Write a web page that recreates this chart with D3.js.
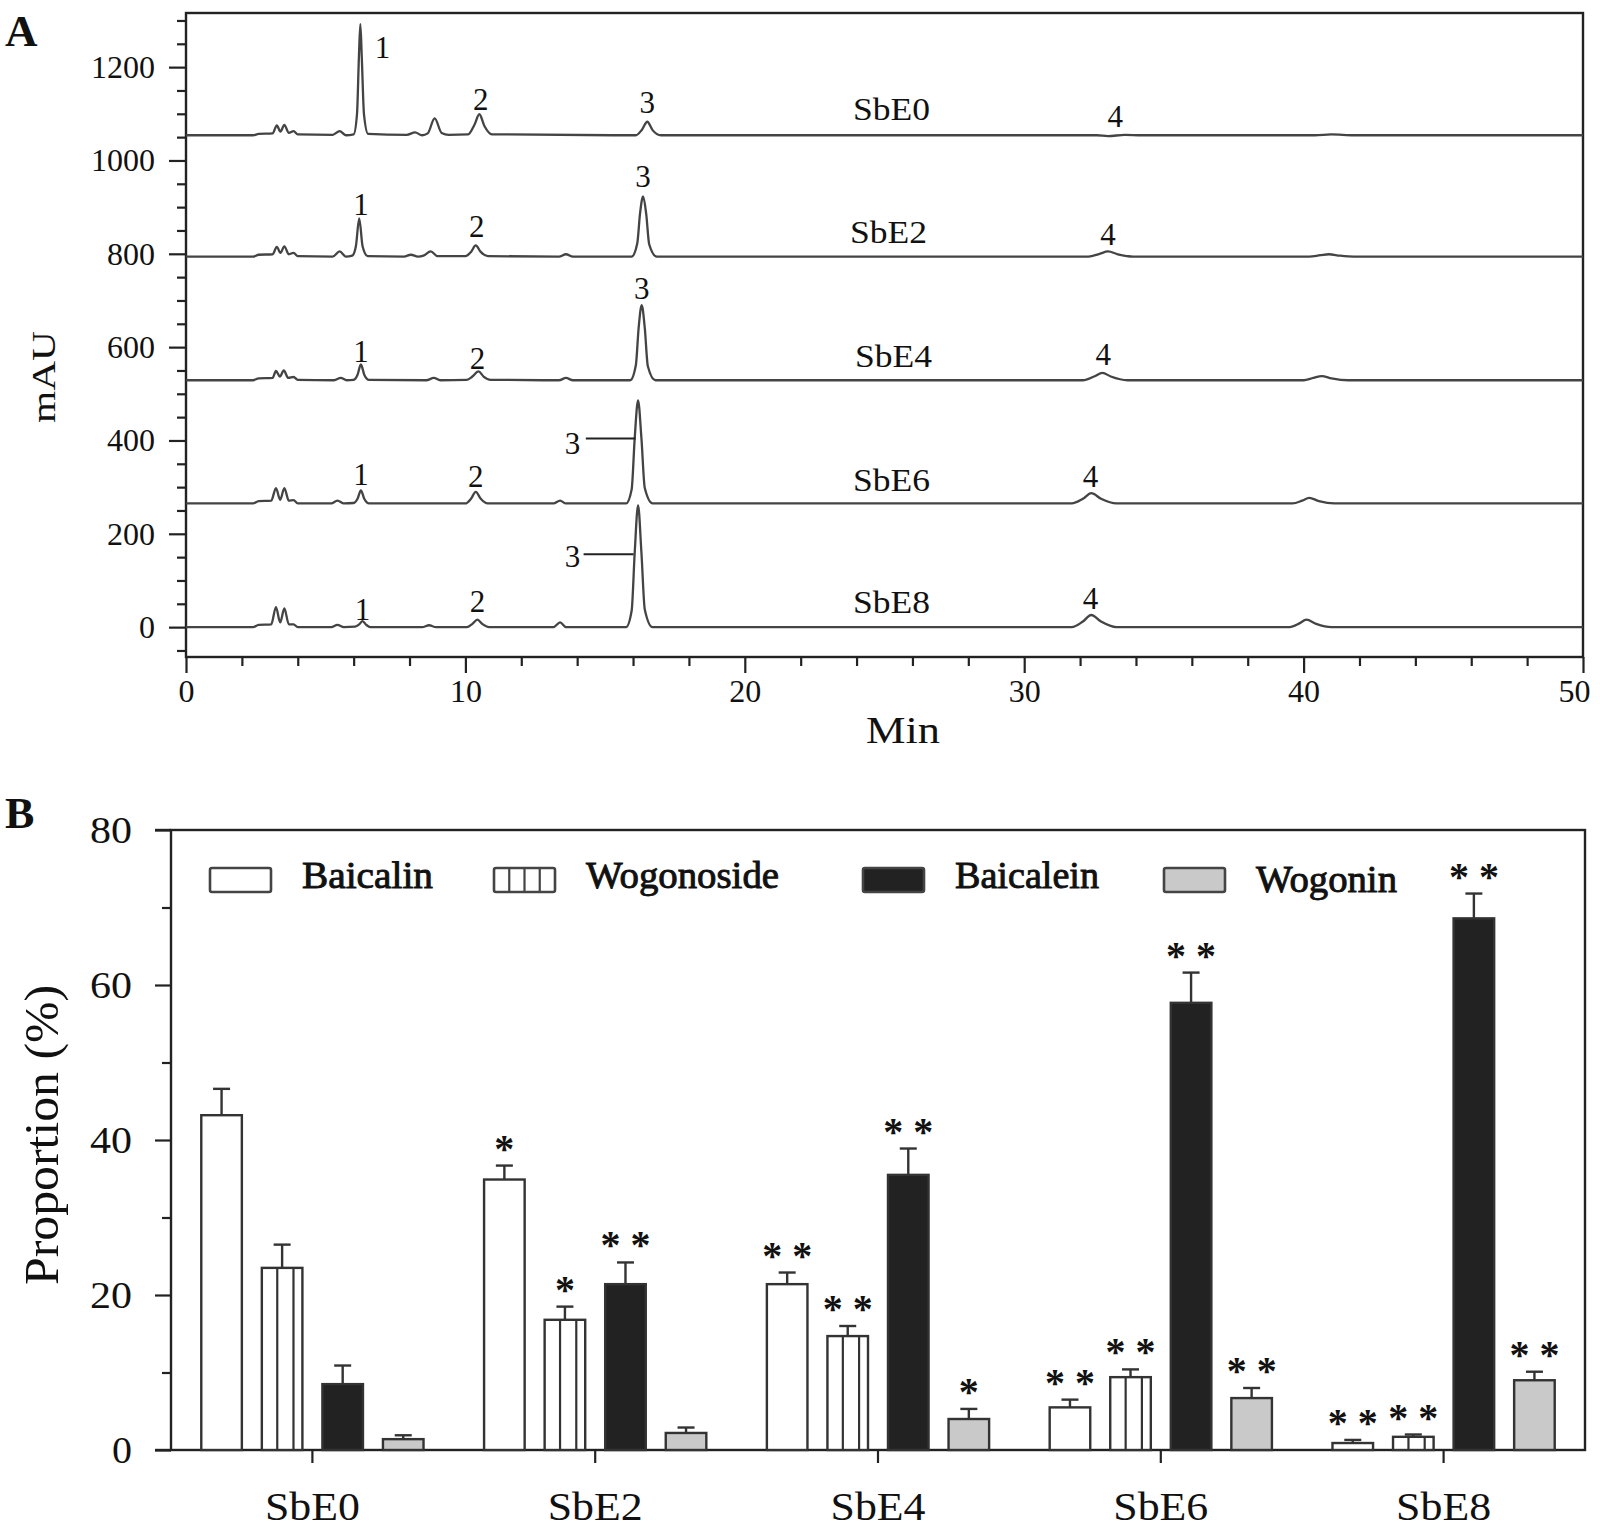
<!DOCTYPE html>
<html><head><meta charset="utf-8">
<script src="https://cdn.jsdelivr.net/npm/d3@7"></script>
<style>
body{margin:0;background:#fff}
svg{display:block}
text{font-family:"Liberation Serif","Times New Roman",serif;fill:#111}
</style>
</head><body>
<svg id="c" width="1600" height="1530"></svg>
<script>
// ---------------- Panel A data (chromatograms) ----------------
const samples = ["SbE0","SbE2","SbE4","SbE6","SbE8"];
const traceBaselines = [1054, 794, 529, 265, 0];   // mAU offset of each trace
// [minute, mAU above the trace baseline]
const traceSbE0 = [[0,0],[2.4,0],[2.6,3],[3.1,4],[3.25,21],[3.38,8],[3.52,22],[3.68,5],[3.85,9],[4.0,2],[5.25,1],[5.5,9],[5.72,0],[6.0,2],[6.12,45],[6.19,170],[6.24,238],[6.29,170],[6.37,45],[6.52,3],[7.9,1],[8.2,6],[8.45,0],[8.65,4],[8.9,36],[9.15,5],[9.4,1],[10.1,2],[10.32,22],[10.5,45],[10.68,20],[10.95,2],[16.1,0],[16.32,12],[16.51,29],[16.7,11],[17.0,0],[32.6,0],[33.0,-2],[33.6,1],[34.2,0],[40.4,0],[41.0,2],[41.8,0],[50,0]];
const traceSbE2 = [[0,0],[2.4,0],[2.6,4],[3.1,5],[3.25,21],[3.38,8],[3.52,22],[3.68,5],[3.85,8],[4.0,1],[5.25,0],[5.5,11],[5.72,0],[5.95,2],[6.08,22],[6.2,82],[6.32,22],[6.5,1],[7.8,0],[8.05,4],[8.3,0],[8.5,2],[8.76,11],[9.0,1],[10.0,1],[10.2,10],[10.37,24],[10.55,10],[10.8,1],[13.35,0],[13.6,5],[13.85,0],[15.95,0],[16.15,28],[16.25,92],[16.36,129],[16.47,92],[16.58,26],[16.85,0],[32.3,0],[32.7,6],[33.0,11],[33.35,5],[33.9,0],[40.2,0],[40.6,3],[40.9,5],[41.3,2],[41.8,0],[50,0]];
const traceSbE4 = [[0,0],[2.4,0],[2.6,4],[3.1,5],[3.22,20],[3.36,8],[3.5,21],[3.66,5],[3.85,7],[4.0,1],[5.3,0],[5.54,5],[5.75,0],[6.0,1],[6.14,12],[6.26,34],[6.38,12],[6.55,1],[8.6,0],[8.87,5],[9.1,0],[10.05,1],[10.25,8],[10.47,19],[10.65,8],[10.9,1],[13.35,0],[13.6,5],[13.85,0],[15.9,0],[16.1,32],[16.2,112],[16.31,161],[16.42,112],[16.53,30],[16.8,0],[32.1,0],[32.5,8],[32.8,16],[33.1,8],[33.7,0],[40.0,0],[40.35,5],[40.65,9],[41.0,4],[41.6,0],[50,0]];
const traceSbE6 = [[0,0],[2.4,0],[2.6,5],[3.05,6],[3.22,33],[3.37,8],[3.52,33],[3.68,6],[3.85,7],[4.0,0],[5.2,0],[5.42,6],[5.65,0],[6.0,1],[6.14,10],[6.26,28],[6.38,10],[6.55,0],[10.0,0],[10.2,10],[10.37,25],[10.55,10],[10.8,0],[13.15,0],[13.39,6],[13.6,0],[15.75,0],[15.95,30],[16.06,140],[16.18,221],[16.3,140],[16.42,33],[16.7,0],[31.7,0],[32.1,10],[32.4,22],[32.75,10],[33.3,0],[39.6,0],[39.95,6],[40.2,12],[40.55,5],[41.1,0],[50,0]];
const traceSbE8 = [[0,0],[2.4,0],[2.6,5],[3.05,6],[3.22,43],[3.37,10],[3.52,40],[3.68,6],[3.85,6],[4.0,0],[5.2,0],[5.42,5],[5.65,0],[6.05,1],[6.2,6],[6.32,13],[6.45,5],[6.6,0],[8.45,0],[8.7,4],[8.95,0],[10.05,0],[10.25,7],[10.43,16],[10.6,7],[10.85,0],[13.15,0],[13.39,10],[13.6,0],[15.75,0],[15.95,35],[16.06,160],[16.18,261],[16.3,160],[16.42,38],[16.7,0],[31.7,0],[32.1,12],[32.4,26],[32.75,12],[33.3,0],[39.5,0],[39.85,8],[40.1,16],[40.45,7],[41.0,0],[50,0]];
const traces = [traceSbE0, traceSbE2, traceSbE4, traceSbE6, traceSbE8];

const xTicksA = [0,10,20,30,40,50];
const xMinorA = [2,4,6,8,12,14,16,18,22,24,26,28,32,34,36,38,42,44,46,48];
const yTicksA = [0,200,400,600,800,1000,1200];
const yMinorA = [-50,50,100,150,250,300,350,450,500,550,650,700,750,850,900,950,1050,1100,1150,1250,1300];

// peak annotations [label, minute, mAU]
const peakLabels = [
  ["1",7.03,1219],["2",10.55,1108],["3",16.51,1101],["4",33.26,1071],
  ["1",6.26,883],["2",10.41,836],["3",16.36,943],["4",33.0,819],
  ["1",6.26,568],["2",10.43,554],["3",16.31,704],["4",32.83,561],
  ["1",6.26,304],["2",10.37,300],["3",13.83,372],["4",32.37,300],
  ["1",6.32,15],["2",10.43,32],["3",13.83,129],["4",32.37,39]
];
// leader lines for label 3 [t1, t2, mAU]
const leaderLines = [[14.31,16.09,404],[14.23,16.02,156]];
// sample names inside panel A [minute, mAU]
const sampleLabelPos = [[25.25,1086],[25.14,823],[25.32,558],[25.25,292],[25.25,30]];

// ---------------- Panel B data (bars) ----------------
const compounds = ["Baicalin","Wogonoside","Baicalein","Wogonin"];
const baicalin   = [43.2, 34.9, 21.4, 5.5, 0.9];
const wogonoside = [23.5, 16.8, 14.7, 9.4, 1.7];
const baicalein  = [8.5, 21.4, 35.5, 57.7, 68.6];
const wogonin    = [1.4, 2.2, 4.0, 6.7, 9.0];
const baicalinErr   = [3.4, 1.8, 1.5, 1.0, 0.4];
const wogonosideErr = [3.0, 1.7, 1.3, 1.0, 0.3];
const baicaleinErr  = [2.4, 2.8, 3.4, 3.9, 3.2];
const wogoninErr    = [0.5, 0.7, 1.3, 1.3, 1.1];
const baicalinSig   = ["", "*", "**", "**", "**"];
const wogonosideSig = ["", "*", "**", "**", "**"];
const baicaleinSig  = ["", "**", "**", "**", "**"];
const wogoninSig    = ["", "", "*", "**", "**"];
const yTicksB = [0,20,40,60,80];
const yMinorB = [10,30,50,70];

// ---------------- drawing ----------------
const svg = d3.select("#c");
const INK = "#222";

// ===== Panel A =====
const xA = d3.scaleLinear().domain([0,50]).range([186,1583]);
const yA = d3.scaleLinear().domain([-64,1316]).range([657,13]);
const gA = svg.append("g");

function styleAxis(g, fs){
  g.select(".domain").remove();
  g.selectAll(".tick line").attr("stroke",INK).attr("stroke-width",2.2);
  g.selectAll("text").attr("font-size",fs).attr("fill","#111");
}

gA.append("g").attr("transform",`translate(${xA(0)},0)`)
  .call(d3.axisLeft(yA).tickValues(yMinorA).tickSize(9).tickFormat(""))
  .call(g=>styleAxis(g,32));
gA.append("g").attr("transform",`translate(${xA(0)},0)`)
  .call(d3.axisLeft(yA).tickValues(yTicksA).tickSize(17).tickPadding(14).tickFormat(d3.format("d")))
  .call(g=>styleAxis(g,32));
gA.append("g").attr("transform",`translate(0,${yA.range()[0]})`)
  .call(d3.axisBottom(xA).tickValues(xMinorA).tickSize(9).tickFormat(""))
  .call(g=>styleAxis(g,32));
const xAx = gA.append("g").attr("transform",`translate(0,${yA.range()[0]})`)
  .call(d3.axisBottom(xA).tickValues(xTicksA).tickSize(16).tickPadding(6).tickFormat(d3.format("d")))
  .call(g=>styleAxis(g,32));
xAx.selectAll(".tick").filter(d=>d===50).select("text").attr("x",-9);

gA.append("rect").attr("x",xA(0)).attr("y",yA.range()[1])
  .attr("width",xA(50)-xA(0)).attr("height",yA.range()[0]-yA.range()[1])
  .attr("fill","none").attr("stroke",INK).attr("stroke-width",2.4);

const line = d3.line().curve(d3.curveMonotoneX);
traces.forEach((tr,i)=>{
  const b = traceBaselines[i];
  gA.append("path")
    .attr("d", line(tr.map(p=>[xA(p[0]), yA(b+p[1])])))
    .attr("fill","none").attr("stroke","#444").attr("stroke-width",2.3)
    .attr("stroke-linejoin","round");
});

gA.selectAll(".pk").data(peakLabels).join("text")
  .attr("x",d=>xA(d[1])).attr("y",d=>yA(d[2]))
  .attr("text-anchor","middle").attr("font-size",31).text(d=>d[0]);
gA.selectAll(".ll").data(leaderLines).join("line")
  .attr("x1",d=>xA(d[0])).attr("x2",d=>xA(d[1]))
  .attr("y1",d=>yA(d[2])).attr("y2",d=>yA(d[2]))
  .attr("stroke",INK).attr("stroke-width",2);
gA.selectAll(".sl").data(sampleLabelPos).join("text")
  .attr("x",d=>xA(d[0])).attr("y",d=>yA(d[1]))
  .attr("text-anchor","middle").attr("font-size",31)
  .attr("textLength",77).attr("lengthAdjust","spacingAndGlyphs")
  .text((d,i)=>samples[i]);

gA.append("text").attr("transform","translate(55,377) rotate(-90)")
  .attr("text-anchor","middle").attr("font-size",34)
  .attr("textLength",92).attr("lengthAdjust","spacingAndGlyphs").text("mAU");
gA.append("text").attr("x",903).attr("y",743).attr("text-anchor","middle")
  .attr("font-size",38).attr("textLength",74).attr("lengthAdjust","spacingAndGlyphs").text("Min");
gA.append("text").attr("x",5).attr("y",46).attr("font-size",45).attr("font-weight","bold").text("A");

// ===== Panel B =====
const yB = d3.scaleLinear().domain([0,80]).range([1450,830]);
const x0 = d3.scaleBand().domain(samples).range([171,1585]);
const x1 = d3.scaleBand().domain(compounds).range([0,x0.bandwidth()]).paddingInner(0.33).paddingOuter(0.5);
const gB = svg.append("g");

gB.append("g").attr("transform",`translate(171,0)`)
  .call(d3.axisLeft(yB).tickValues(yMinorB).tickSize(9).tickFormat(""))
  .call(g=>styleAxis(g,37));
gB.append("g").attr("transform",`translate(171,0)`)
  .call(d3.axisLeft(yB).tickValues(yTicksB).tickSize(16).tickPadding(23).tickFormat(d3.format("d")))
  .call(g=>{styleAxis(g,38); g.selectAll("text").attr("textLength",t=>t>=10?42:20).attr("lengthAdjust","spacingAndGlyphs");});
gB.append("g").attr("transform",`translate(0,1450)`)
  .call(d3.axisBottom(x0).tickSize(13).tickPadding(29))
  .call(g=>{styleAxis(g,40); g.selectAll("text").attr("textLength",95).attr("lengthAdjust","spacingAndGlyphs");});

gB.append("rect").attr("x",171).attr("y",830).attr("width",1585-171).attr("height",620)
  .attr("fill","none").attr("stroke",INK).attr("stroke-width",2.4);
gB.append("line").attr("x1",155).attr("x2",171).attr("y1",830).attr("y2",830).attr("stroke",INK).attr("stroke-width",2.4);
gB.append("line").attr("x1",155).attr("x2",171).attr("y1",1450).attr("y2",1450).attr("stroke",INK).attr("stroke-width",2.4);

const seriesVals = [baicalin, wogonoside, baicalein, wogonin];
const seriesErr = [baicalinErr, wogonosideErr, baicaleinErr, wogoninErr];
const seriesSig = [baicalinSig, wogonosideSig, baicaleinSig, wogoninSig];
const fills = ["#ffffff","#ffffff","#222222","#c9c9c9"];
const bw = x1.bandwidth();

samples.forEach((s,si)=>{
  compounds.forEach((c,ci)=>{
    const v = seriesVals[ci][si], e = seriesErr[ci][si];
    const bx = x0(s)+x1(c), cx = bx+bw/2;
    const yTop = yB(v), yErr = yB(v+e);
    gB.append("line").attr("x1",cx).attr("x2",cx).attr("y1",yTop).attr("y2",yErr)
      .attr("stroke","#333").attr("stroke-width",2.4);
    gB.append("line").attr("x1",cx-8.5).attr("x2",cx+8.5).attr("y1",yErr).attr("y2",yErr)
      .attr("stroke","#333").attr("stroke-width",2.4);
    gB.append("rect").attr("x",bx).attr("y",yTop).attr("width",bw).attr("height",yB(0)-yTop)
      .attr("fill",fills[ci]).attr("stroke","#333").attr("stroke-width",2.4);
    if(ci===1){
      [0.38,0.78].forEach(f=>{
        gB.append("line").attr("x1",bx+bw*f).attr("x2",bx+bw*f).attr("y1",yTop).attr("y2",yB(0))
          .attr("stroke","#333").attr("stroke-width",2.2);
      });
    }
    const sig = seriesSig[ci][si];
    if(sig){
      gB.append("text").attr("x",cx).attr("y",yErr-4).attr("text-anchor","middle")
        .attr("font-size",40).attr("font-weight","bold")
        .text(sig==="**"?"* *":"*");
    }
  });
});

// legend
const legBoxX = [210,494,863,1164];
compounds.forEach((c,i)=>{
  const lx = legBoxX[i];
  gB.append("rect").attr("x",lx).attr("y",868).attr("width",61).attr("height",24).attr("rx",2)
    .attr("fill",fills[i]).attr("stroke","#444").attr("stroke-width",2.6);
  if(i===1){
    [0.25,0.5,0.75].forEach(f=>{
      gB.append("line").attr("x1",lx+61*f).attr("x2",lx+61*f).attr("y1",868).attr("y2",892)
        .attr("stroke","#444").attr("stroke-width",2.2);
    });
  }
  gB.append("text").attr("x",lx+92).attr("y",i===3?892:888).attr("font-size",37)
    .attr("stroke","#111").attr("stroke-width",0.9)
    .attr("textLength",[131,193,144,141][i]).attr("lengthAdjust","spacingAndGlyphs")
    .text(c);
});

gB.append("text").attr("transform","translate(58,1135) rotate(-90)")
  .attr("text-anchor","middle").attr("font-size",48)
  .attr("textLength",300).attr("lengthAdjust","spacingAndGlyphs").text("Proportion (%)");
gB.append("text").attr("x",5).attr("y",828).attr("font-size",44).attr("font-weight","bold").text("B");
</script>
</body></html>
